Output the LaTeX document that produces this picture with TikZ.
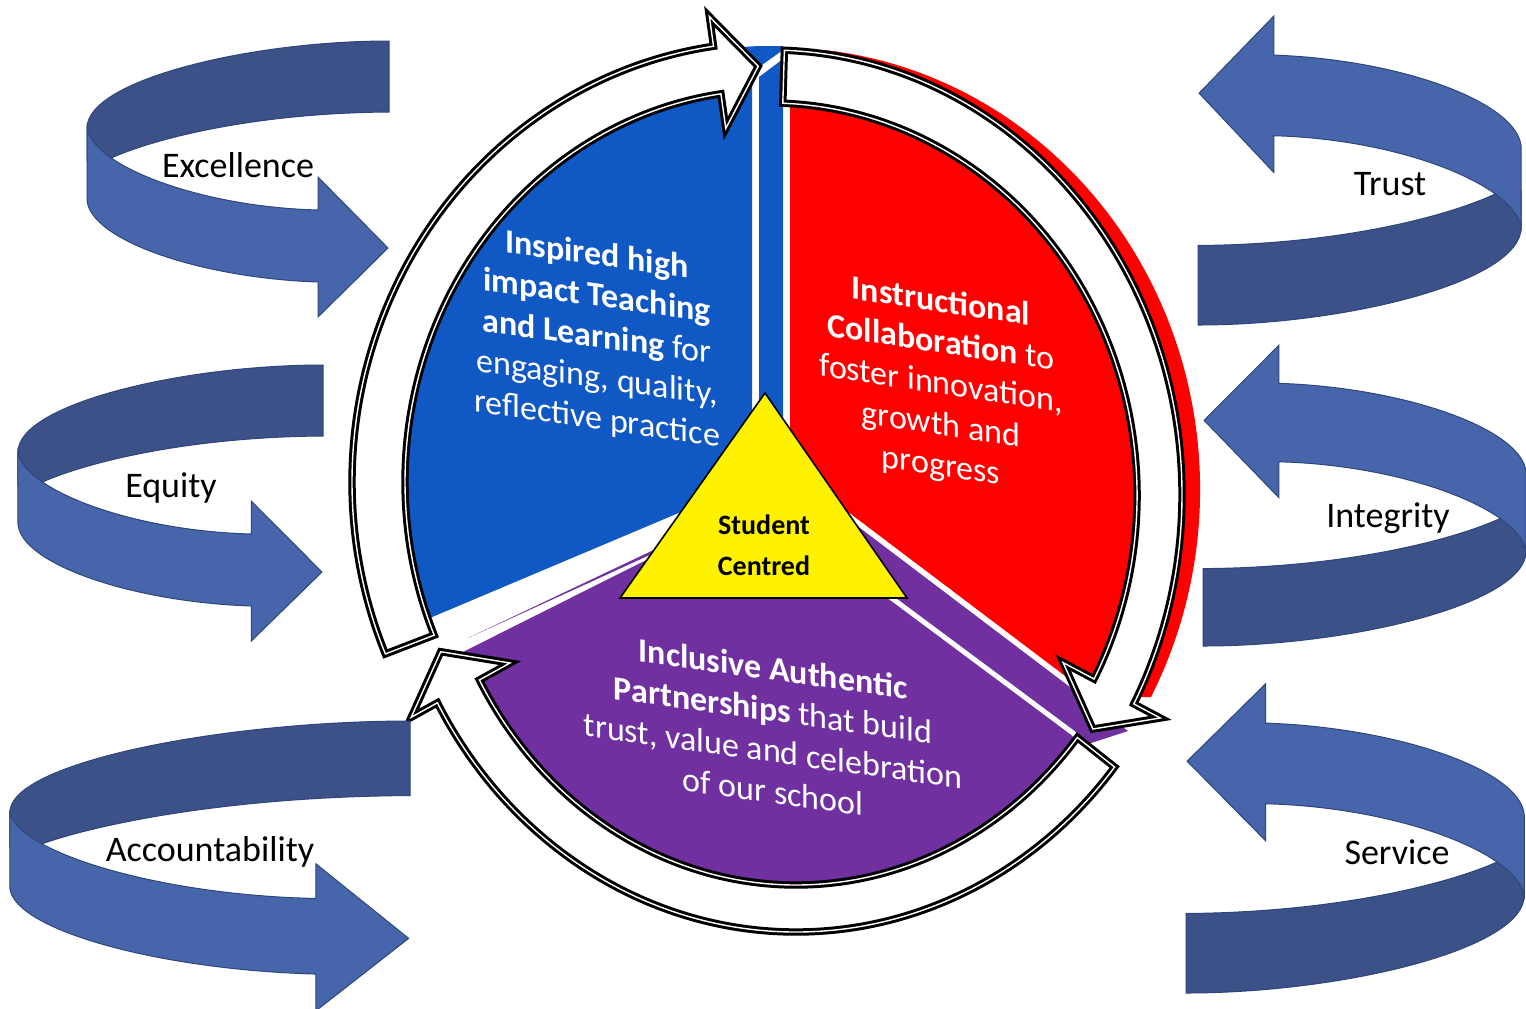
\documentclass[tikz,border=0pt]{standalone}
\usepackage{fontspec}
\setmainfont{Carlito}

\definecolor{pieblue}{RGB}{16,88,196}
\definecolor{piered}{RGB}{255,0,0}
\definecolor{piepurple}{RGB}{112,48,160}
\definecolor{curldark}{RGB}{59,81,135}
\definecolor{curllight}{RGB}{71,101,170}
\definecolor{curledge}{RGB}{47,70,122}

\tikzset{
  ringline/.style={fill=white, draw=black, double=white, double distance=0.7pt, line width=1.5pt},
  curlback/.style={fill=curldark, draw=curledge, line width=0.5pt},
  curlfront/.style={fill=curllight, draw=curledge, line width=0.5pt},
  valuetext/.style={font=\fontsize{18}{22}\selectfont},
  pietext/.style={text=white, align=center, font=\fontsize{17}{20.5}\selectfont, yslant=-0.14}
}

% centre x, centre y, outer radii, inner radii, tail, head base, tip
\newcommand{\ringarrow}[9]{%
  \pgfmathsetmacro\rxbarb{#3+30}\pgfmathsetmacro\rybarb{#4+30}%
  \pgfmathsetmacro\rxin{#5-35}\pgfmathsetmacro\ryin{#6-35}%
  \pgfmathsetmacro\rxmid{(#3+#5)/2}\pgfmathsetmacro\rymid{(#4+#6)/2}%
  \begin{scope}[shift={(#1,#2)}]
    \draw[ringline] (#7:#3 and #4) arc[start angle=#7, end angle=#8, x radius=#3, y radius=#4]
      -- (#8:\rxbarb\space and \rybarb) -- (#9:\rxmid\space and \rymid)
      -- (#8:\rxin\space and \ryin) -- (#8:#5 and #6)
      arc[start angle=#8, end angle=#7, x radius=#5, y radius=#6] -- cycle;
  \end{scope}}

% tail corner x, y, xscale, yscale, rotation
\newcommand{\curlarrow}[5]{%
  \begin{scope}[shift={(#1,#2)}, rotate=#5, xscale=#3, yscale=#4]
    \draw[curlback] (0,0) .. controls (-139,0) and (-302,39) .. (-302,87) -- (-302,120) -- (-280,118)
      .. controls (-239,99) and (-139,72) .. (0,71) -- cycle;
    \draw[curlfront] (-302,87) .. controls (-296,125) and (-189,166) .. (-71,169) -- (-71,136) -- (-1,207)
      -- (-71,276) -- (-71,241) .. controls (-189,237) and (-299,199) .. (-302,159) -- cycle;
  \end{scope}}

\begin{document}
\begin{tikzpicture}[x=0.5pt, y=-0.5pt]
      \useasboundingbox (0,0) rectangle (1526,1008);
      \fill[white] (0,0) rectangle (1526,1008);

      % pie
      \fill[pieblue] (759,77) -- (783,59) -- (783,430) -- (759,430) -- cycle;
      \fill[pieblue] (752,482) -- (752,72) -- (783,50) -- (783,46) -- (760,46)
        arc[start angle=268, end angle=160, x radius=395, y radius=435] -- cycle;
      \fill[piered] (790,468) -- (790,103) -- (800,80) -- (824,50)
        arc[start angle=276, end angle=388, x radius=420, y radius=442] -- (1093,697) -- cycle;
      \fill[piepurple] (790,475) -- (1128,731) -- (1085,745) -- (760,500) -- cycle;
      \filldraw[fill=piepurple, draw=white, line width=2.5pt] (760,500) -- (1073,733) -- (1090,752)
        arc[start angle=40, end angle=150, x radius=386, y radius=421] -- (457,652) -- cycle;
      \fill[piepurple] (468,638) -- (700,528) -- (700,532) -- cycle;

      % cycle arrows
      \ringarrow{772}{482}{420}{440}{367}{392}{157}{262}{268}
      \ringarrow{770}{495}{412}{445}{367}{392}{272}{388}{394}
      \ringarrow{796}{487}{410}{445}{362}{398}{39}{151}{157}

      \node[pietext] (teach) at (597,338) {\textbf{Inspired high}\\\textbf{impact Teaching}\\\textbf{and Learning} for\\engaging, quality,\\reflective practice};
      \node[pietext, yslant=-0.01] (collab) at (941,385) {\textbf{Instructional}\\\textbf{Collaboration} to\\foster innovation,\\growth and\\progress};
      \node[pietext] (partner) at (773,730) {\textbf{Inclusive Authentic}\\\textbf{Partnerships} that build\\trust, value and celebration\\of our school};

      \draw[fill=yellow, line width=0.8pt] (765,393) -- (907,598) -- (620,598) -- cycle;
      \node[font=\bfseries\fontsize{14}{20.5}\selectfont, align=center] (student) at (764,545) {Student\\Centred};

      % values
      \curlarrow{389}{41}{1}{1}{0}
      \curlarrow{323}{365}{1.01}{1}{0}
      \curlarrow{410}{721}{1.325}{1.05}{0}
      \curlarrow{1198}{325}{1.07}{1.12}{180}
      \curlarrow{1203}{646}{1.07}{1.09}{180}
      \curlarrow{1186}{993}{1.12}{1.12}{180}

      \node[valuetext] (excel) at (238,165) {Excellence};
      \node[valuetext] (equity) at (171,488) {Equity};
      \node[valuetext] (account) at (210,852) {Accountability};
      \node[valuetext] (trust) at (1390,184) {Trust};
      \node[valuetext] (integ) at (1388,518) {Integrity};
      \node[valuetext] (service) at (1397,852) {Service};
\end{tikzpicture}
\end{document}
